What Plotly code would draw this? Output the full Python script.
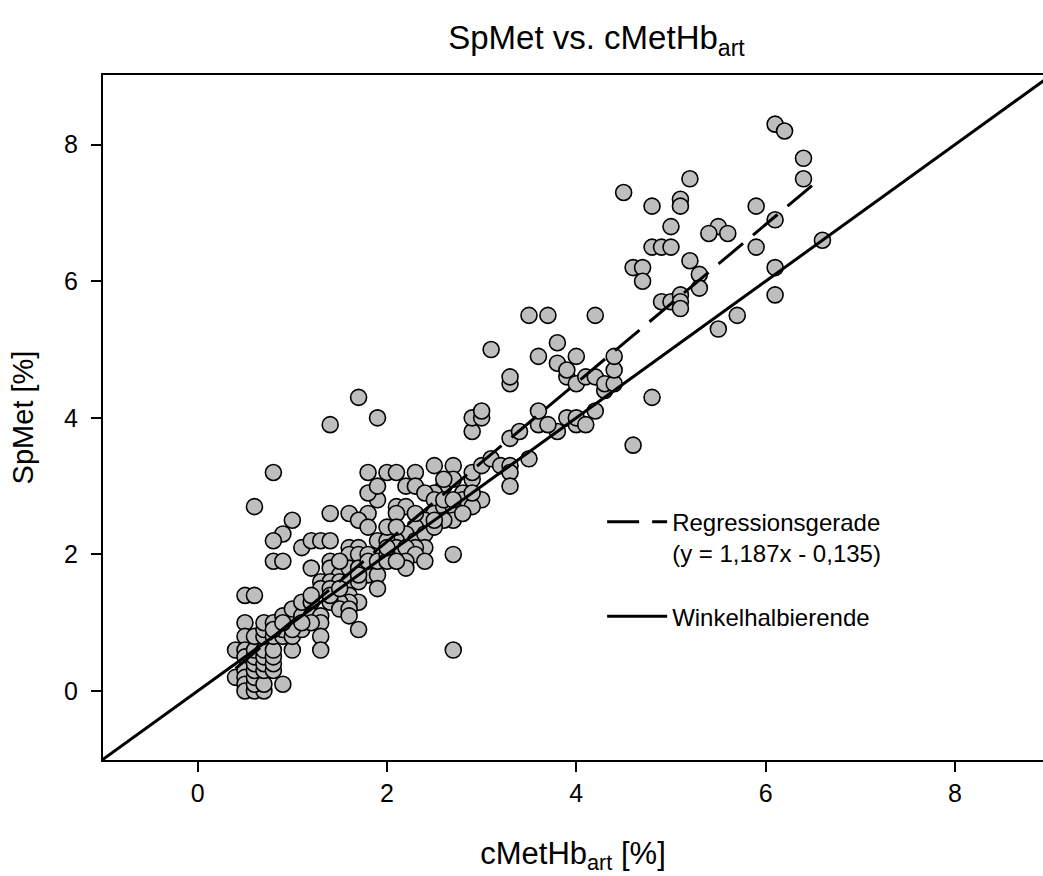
import plotly.graph_objects as go

# ---- data ----
cmethb_art = [
    # low cluster
    0.4, 0.4, 0.5, 0.6, 0.5, 0.5, 0.5, 0.5, 0.5, 0.5, 0.5, 0.5, 0.6, 0.7, 0.6, 0.6, 0.6, 0.6, 0.6, 0.6,
    0.6, 0.7, 0.7, 0.7, 0.7, 0.7, 0.7, 0.7, 0.7, 0.8, 0.8, 0.8, 0.8, 0.8, 0.8, 0.9, 0.9, 0.9, 0.9, 1.0,
    1.0, 1.0, 1.0, 1.1, 1.1, 1.0, 0.8, 0.9,
    # upper-left outliers
    0.6, 0.8, 1.0, 0.9, 0.8, 1.1, 0.8, 0.9,
    # x 1.1 - 2
    1.2, 1.3, 1.4, 1.4, 1.6, 1.8, 1.7, 1.8, 1.9, 1.8, 1.9, 1.8, 1.6, 1.7, 1.6, 1.7, 1.8, 1.9, 1.2, 1.4,
    1.4, 1.5, 1.6, 1.7, 1.8, 1.9, 1.9, 1.3, 1.4, 1.5, 1.3, 1.4, 1.6, 1.7, 1.6, 1.7, 1.6, 1.5, 1.1, 1.2,
    1.2, 1.4, 1.2, 1.3, 1.5, 1.6, 1.6, 1.7, 1.3, 1.2, 1.3, 1.3, 1.1, 1.4, 1.5, 1.8, 1.9, 1.5, 1.7, 1.4,
    1.7, 1.9,
    # x 2 - 3
    2.0, 2.1, 2.3, 2.5, 2.7, 2.2, 2.3, 2.6, 2.7, 2.5, 2.4, 2.8, 2.9, 2.8, 3.0, 2.9, 2.1, 2.2, 2.1, 2.5,
    2.5, 2.6, 2.7, 2.7, 2.8, 2.6, 2.4, 2.3, 2.2, 2.1, 2.3, 2.4, 2.0, 2.5, 2.4, 2.2, 2.1, 2.3, 2.0, 2.2,
    2.3, 2.0, 2.2, 2.4, 2.7, 2.2, 2.0, 2.1, 2.7, 2.0, 2.6, 2.9, 2.9, 2.3, 2.5, 2.7, 2.1, 2.6,
    # x 3 - 4.8
    3.0, 3.1, 3.2, 3.3, 3.3, 3.3, 2.9, 2.9, 3.0, 3.0, 3.3, 3.3, 3.1, 3.3, 3.4, 3.5, 3.6, 3.6, 3.6, 3.5,
    3.7, 3.8, 3.8, 3.8, 3.9, 3.9, 3.9, 4.0, 4.0, 4.0, 4.0, 4.1, 4.1, 4.2, 4.2, 4.3, 4.3, 4.4, 4.4, 4.4,
    4.2, 4.6, 4.8, 3.7,
    # upper region
    6.1, 6.2, 6.4, 6.4, 5.2, 4.5, 4.8, 5.1, 5.1, 5.9, 5.0, 5.5, 5.4, 5.6, 6.1, 4.8, 4.9, 5.0, 5.9, 5.2,
    4.6, 4.7, 4.7, 5.3, 5.3, 6.1, 6.1, 6.6, 4.9, 5.0, 5.1, 5.1, 5.1, 5.7, 5.5,
]
spmet = [
    # low cluster
    0.6, 0.2, 1.4, 1.4, 1.0, 0.8, 0.6, 0.5, 0.3, 0.2, 0.1, 0.0, 0.0, 0.0, 0.1, 0.2, 0.3, 0.4, 0.5, 0.6,
    0.8, 0.1, 0.3, 0.4, 0.5, 0.6, 0.8, 0.9, 1.0, 0.3, 0.4, 0.5, 0.6, 0.8, 1.0, 0.1, 0.8, 0.9, 1.1, 0.6,
    0.8, 1.0, 1.2, 0.9, 1.1, 0.9, 0.9, 1.0,
    # upper-left outliers
    2.7, 3.2, 2.5, 2.3, 2.2, 2.1, 1.9, 1.9,
    # x 1.1 - 2
    2.2, 2.2, 2.2, 2.6, 2.6, 2.6, 2.5, 2.4, 2.8, 2.9, 3.0, 3.2, 2.1, 2.1, 2.0, 2.0, 2.0, 2.2, 1.8, 1.9,
    1.8, 1.7, 1.8, 1.8, 1.7, 1.7, 1.5, 1.6, 1.6, 1.6, 1.5, 1.5, 1.6, 1.6, 1.4, 1.3, 1.3, 1.3, 1.3, 1.3,
    1.4, 1.3, 1.1, 1.1, 1.2, 1.2, 1.1, 0.9, 1.0, 1.0, 0.8, 0.6, 1.0, 1.4, 1.5, 1.9, 1.9, 1.9, 1.7, 3.9,
    4.3, 4.0,
    # x 2 - 3
    3.2, 3.2, 3.2, 3.3, 3.3, 3.0, 3.0, 3.0, 3.1, 2.9, 2.9, 2.9, 3.1, 2.8, 2.8, 2.7, 2.7, 2.7, 2.6, 2.8,
    2.6, 2.7, 2.7, 2.5, 2.6, 2.5, 2.5, 2.4, 2.3, 2.2, 2.2, 2.3, 2.2, 2.4, 2.1, 2.0, 2.1, 2.1, 2.0, 2.1,
    2.0, 1.9, 1.9, 1.9, 2.0, 1.8, 2.1, 1.9, 0.6, 2.4, 2.8, 3.2, 2.9, 2.6, 2.5, 2.8, 2.4, 3.1,
    # x 3 - 4.8
    3.3, 3.4, 3.3, 3.3, 3.2, 3.0, 3.8, 4.0, 4.0, 4.1, 4.5, 4.6, 5.0, 3.7, 3.8, 3.4, 3.9, 4.1, 4.9, 5.5,
    5.5, 3.8, 4.8, 5.1, 4.0, 4.6, 4.7, 3.9, 4.0, 4.5, 4.9, 3.9, 4.6, 4.1, 4.6, 4.4, 4.5, 4.5, 4.7, 4.9,
    5.5, 3.6, 4.3, 3.9,
    # upper region
    8.3, 8.2, 7.8, 7.5, 7.5, 7.3, 7.1, 7.2, 7.1, 7.1, 6.8, 6.8, 6.7, 6.7, 6.9, 6.5, 6.5, 6.5, 6.5, 6.3,
    6.2, 6.2, 6.0, 6.1, 5.9, 6.2, 5.8, 6.6, 5.7, 5.7, 5.8, 5.7, 5.6, 5.5, 5.3,
]

regression_x = [0.4, 6.55]
regression_y = [0.33, 7.47]
identity_x = [-2, 10]
identity_y = [-2, 10]

x_ticks = [0, 2, 4, 6, 8]
y_ticks = [0, 2, 4, 6, 8]

FONT = "Liberation Sans, Arial, sans-serif"

fig = go.Figure()
fig.add_trace(go.Scatter(
    x=cmethb_art, y=spmet, mode="markers", showlegend=False,
    marker=dict(size=16, color="#BEBEBE", line=dict(color="black", width=1.6)),
    hoverinfo="x+y",
))
fig.add_trace(go.Scatter(
    x=regression_x, y=regression_y, mode="lines",
    name="Regressionsgerade<br>(y = 1,187x - 0,135)", legendgroup="a",
    line=dict(color="black", width=3, dash="32px,13px"),
))
fig.add_trace(go.Scatter(
    x=identity_x, y=identity_y, mode="lines",
    name="Winkelhalbierende", legendgroup="b",
    line=dict(color="black", width=3),
))

fig.update_layout(
    width=1043, height=876,
    margin=dict(l=103, r=0, t=75, b=116),
    paper_bgcolor="white", plot_bgcolor="white",
    font=dict(family=FONT, color="black", size=25),
    title=dict(text="SpMet vs. cMetHb<sub>art</sub>", x=0.525, xref="paper", xanchor="center",
               y=0.957, yanchor="middle", font=dict(size=33, family=FONT)),
    showlegend=True,
    legend=dict(x=0.531, y=0.38, xanchor="left", yanchor="top", bgcolor="rgba(0,0,0,0)",
                font=dict(size=24, family=FONT), itemwidth=60, tracegroupgap=29,
                valign="top"),
)
fig.update_xaxes(
    range=[-1.0, 8.93], tickvals=x_ticks, ticks="outside", ticklen=10, tickwidth=1.5,
    tickcolor="black", showline=True, linecolor="black", linewidth=2, mirror=True,
    showgrid=False, zeroline=False, tickfont=dict(size=25),
    title=dict(text="cMetHb<sub>art</sub> [%]", font=dict(size=31), standoff=36),
)
fig.update_yaxes(
    range=[-1.01, 9.02], tickvals=y_ticks, ticks="outside", ticklen=10, tickwidth=1.5,
    tickcolor="black", showline=True, linecolor="black", linewidth=2, mirror=False,
    showgrid=False, zeroline=False, tickfont=dict(size=25), ticklabelstandoff=8,
    title=dict(text="SpMet [%]", font=dict(size=29), standoff=22),
)

fig.write_html("out.html", config={"displayModeBar": False},
               post_script="document.body.style.margin='0';")
